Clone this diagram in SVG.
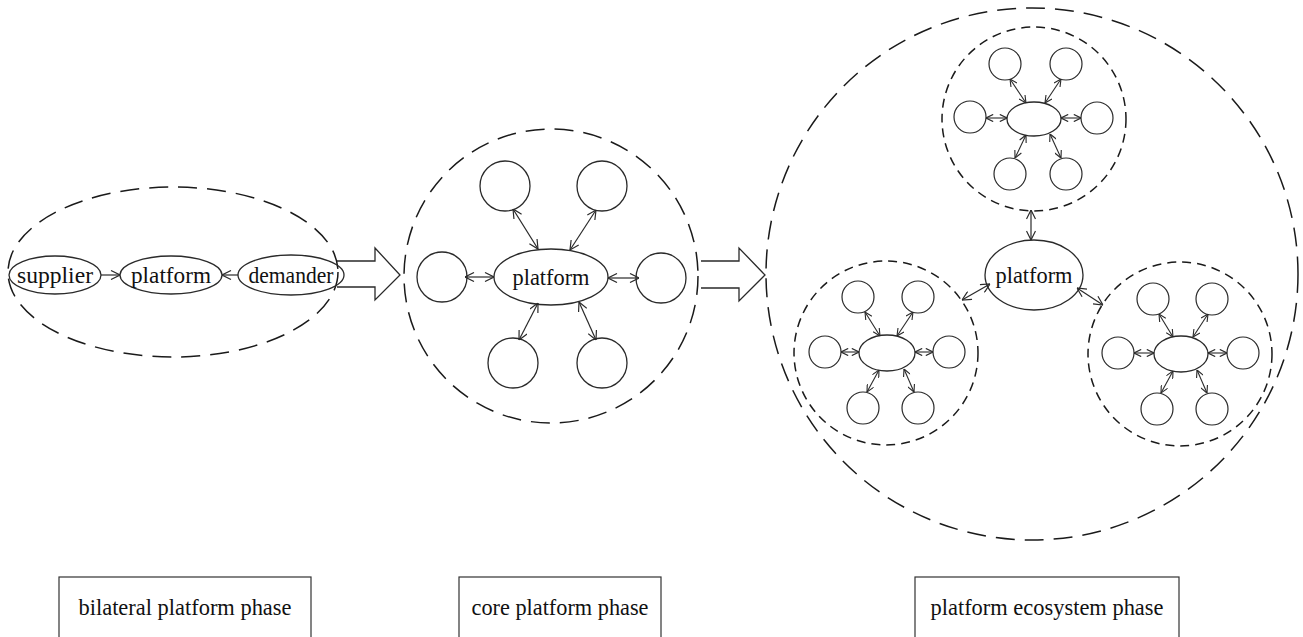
<svg xmlns="http://www.w3.org/2000/svg" width="1303" height="637" viewBox="0 0 1303 637">
<style>
.bg{fill:#fff}
.sol{fill:none;stroke:#2a2a2a;stroke-width:1.3}
.dl{fill:none;stroke:#1a1a1a;stroke-width:1.5;stroke-dasharray:19 10}
.ds{fill:none;stroke:#1a1a1a;stroke-width:1.5;stroke-dasharray:9 6}
.c{fill:none;stroke:#2a2a2a;stroke-width:1.3}
.cs{fill:none;stroke:#2a2a2a;stroke-width:1.2}
.a2{fill:none;stroke:#2a2a2a;stroke-width:1.2;marker-start:url(#ah);marker-end:url(#ah)}
.a1{fill:none;stroke:#2a2a2a;stroke-width:1.2;marker-end:url(#ah)}
.s2{fill:none;stroke:#2a2a2a;stroke-width:1.1;marker-start:url(#ahs);marker-end:url(#ahs)}
.t{font-size:23px;fill:#111;text-anchor:middle}
.lb{fill:#fff;stroke:#333;stroke-width:1.2}
</style>
<defs>
<marker id="ah" viewBox="0 0 10 10" refX="10" refY="5" markerWidth="10" markerHeight="10" markerUnits="userSpaceOnUse" orient="auto-start-reverse"><path d="M1,0.5 L10,5 L1,9.5" fill="none" stroke="#2a2a2a" stroke-width="1.2"/></marker>
<marker id="ahs" viewBox="0 0 10 10" refX="10" refY="5" markerWidth="8" markerHeight="8" markerUnits="userSpaceOnUse" orient="auto-start-reverse"><path d="M1,0.5 L10,5 L1,9.5" fill="none" stroke="#2a2a2a" stroke-width="1.4"/></marker>
</defs>
<rect class="bg" x="0" y="0" width="1303" height="637"/>

<g font-family="Liberation Serif, DejaVu Serif, serif">
<!-- Phase 1: bilateral -->
<g id="bilateral-boundary"><ellipse class="dl" cx="173" cy="272" rx="165" ry="85"/></g>
<g id="supplier"><ellipse class="c" cx="55" cy="275" rx="46" ry="19"/><text class="t" x="55" y="283" textLength="76" lengthAdjust="spacingAndGlyphs">supplier</text></g>
<g id="platform1"><ellipse class="c" cx="171" cy="275" rx="51" ry="19"/><text class="t" x="171" y="283" textLength="80" lengthAdjust="spacingAndGlyphs">platform</text></g>
<g id="demander"><ellipse class="c" cx="291" cy="275" rx="53" ry="20"/><text class="t" x="291" y="283" textLength="85" lengthAdjust="spacingAndGlyphs">demander</text></g>

<g id="block-arrow-1"><polyline class="sol" points="337,261 375,261 375,248 400,275 375,300 375,287 337,287"/></g>

<!-- Phase 2: core -->
<g id="core-boundary"><circle class="dl" cx="551" cy="276" r="147"/></g>
<g id="platform2"><ellipse class="c" cx="551" cy="277" rx="57" ry="28"/><text class="t" x="551" y="285" textLength="77" lengthAdjust="spacingAndGlyphs">platform</text></g>
<g id="core-n1"><circle class="c" cx="505" cy="186" r="25"/></g>
<g id="core-n2"><circle class="c" cx="602" cy="186" r="25"/></g>
<g id="core-n3"><circle class="c" cx="442" cy="277" r="25"/></g>
<g id="core-n4"><circle class="c" cx="661" cy="278" r="25"/></g>
<g id="core-n5"><circle class="c" cx="513" cy="363" r="25"/></g>
<g id="core-n6"><circle class="c" cx="602" cy="363" r="25"/></g>

<g id="block-arrow-2"><polyline class="sol" points="701,261 739,261 739,248 765,275 739,301 739,288 701,288"/></g>

<!-- Phase 3: ecosystem -->
<g id="eco-boundary"><circle class="dl" cx="1032" cy="274" r="266"/></g>
<g id="platform3"><ellipse class="c" cx="1034" cy="275" rx="49" ry="35"/><text class="t" x="1034" y="283" textLength="77" lengthAdjust="spacingAndGlyphs">platform</text></g>

<g id="sub-top">
<circle class="ds" cx="1034" cy="119" r="92"/>
<ellipse class="c" cx="1034" cy="119" rx="27" ry="17"/>
<circle class="cs" cx="1005" cy="64" r="16"/>
<circle class="cs" cx="1066" cy="64" r="16"/>
<circle class="cs" cx="970" cy="117" r="16"/>
<circle class="cs" cx="1097" cy="118" r="16"/>
<circle class="cs" cx="1010" cy="174" r="16"/>
<circle class="cs" cx="1066" cy="174" r="16"/>
</g>

<g id="sub-left">
<circle class="ds" cx="886" cy="353" r="92"/>
<ellipse class="c" cx="887" cy="353" rx="28" ry="18"/>
<circle class="cs" cx="858" cy="297" r="16"/>
<circle class="cs" cx="918" cy="297" r="16"/>
<circle class="cs" cx="825" cy="352" r="16"/>
<circle class="cs" cx="949" cy="352" r="16"/>
<circle class="cs" cx="863" cy="408" r="16"/>
<circle class="cs" cx="918" cy="408" r="16"/>
</g>

<g id="sub-right">
<circle class="ds" cx="1180" cy="354" r="92"/>
<ellipse class="c" cx="1181" cy="354" rx="27" ry="18"/>
<circle class="cs" cx="1153" cy="299" r="16"/>
<circle class="cs" cx="1212" cy="299" r="16"/>
<circle class="cs" cx="1118" cy="353" r="16"/>
<circle class="cs" cx="1243" cy="353" r="16"/>
<circle class="cs" cx="1157" cy="409" r="16"/>
<circle class="cs" cx="1212" cy="409" r="16"/>
</g>

<!-- Connectors -->
<g id="connectors">
<line class="a1" x1="101" y1="275" x2="120" y2="275"/>
<line class="a1" x1="238" y1="275" x2="222" y2="275"/>

<line class="a2" x1="513" y1="209" x2="538" y2="249"/>
<line class="a2" x1="596" y1="210" x2="570" y2="250"/>
<line class="a2" x1="465" y1="277" x2="494" y2="277"/>
<line class="a2" x1="608" y1="278" x2="639" y2="278"/>
<line class="a2" x1="538" y1="303" x2="519" y2="340"/>
<line class="a2" x1="579" y1="302" x2="596" y2="340"/>

<line class="a2" x1="1031" y1="210" x2="1031" y2="240"/>
<line class="a2" x1="962" y1="300" x2="990" y2="284"/>
<line class="a2" x1="1077" y1="288" x2="1103" y2="305"/>

<line class="s2" x1="1010" y1="79" x2="1026" y2="103"/>
<line class="s2" x1="1061" y1="79" x2="1045" y2="103"/>
<line class="s2" x1="986" y1="118" x2="1007" y2="118"/>
<line class="s2" x1="1061" y1="118" x2="1081" y2="118"/>
<line class="s2" x1="1026" y1="135" x2="1015" y2="158"/>
<line class="s2" x1="1050" y1="134" x2="1061" y2="158"/>

<line class="s2" x1="865" y1="312" x2="880" y2="336"/>
<line class="s2" x1="913" y1="312" x2="897" y2="336"/>
<line class="s2" x1="841" y1="352" x2="859" y2="352"/>
<line class="s2" x1="915" y1="352" x2="933" y2="352"/>
<line class="s2" x1="879" y1="370" x2="867" y2="392"/>
<line class="s2" x1="904" y1="369" x2="914" y2="392"/>

<line class="s2" x1="1159" y1="314" x2="1173" y2="337"/>
<line class="s2" x1="1208" y1="314" x2="1193" y2="337"/>
<line class="s2" x1="1134" y1="353" x2="1154" y2="353"/>
<line class="s2" x1="1208" y1="353" x2="1227" y2="353"/>
<line class="s2" x1="1173" y1="371" x2="1161" y2="393"/>
<line class="s2" x1="1197" y1="370" x2="1207" y2="393"/>
</g>

<!-- Phase labels -->
<g id="label-bilateral"><rect class="lb" x="59" y="577" width="252" height="80"/><text class="t" x="185" y="615" textLength="213" lengthAdjust="spacingAndGlyphs">bilateral platform phase</text></g>
<g id="label-core"><rect class="lb" x="459" y="577" width="202" height="80"/><text class="t" x="560" y="615" textLength="177" lengthAdjust="spacingAndGlyphs">core platform phase</text></g>
<g id="label-eco"><rect class="lb" x="915" y="577" width="264" height="80"/><text class="t" x="1047" y="615" textLength="233" lengthAdjust="spacingAndGlyphs">platform ecosystem phase</text></g>
</g>
</svg>
